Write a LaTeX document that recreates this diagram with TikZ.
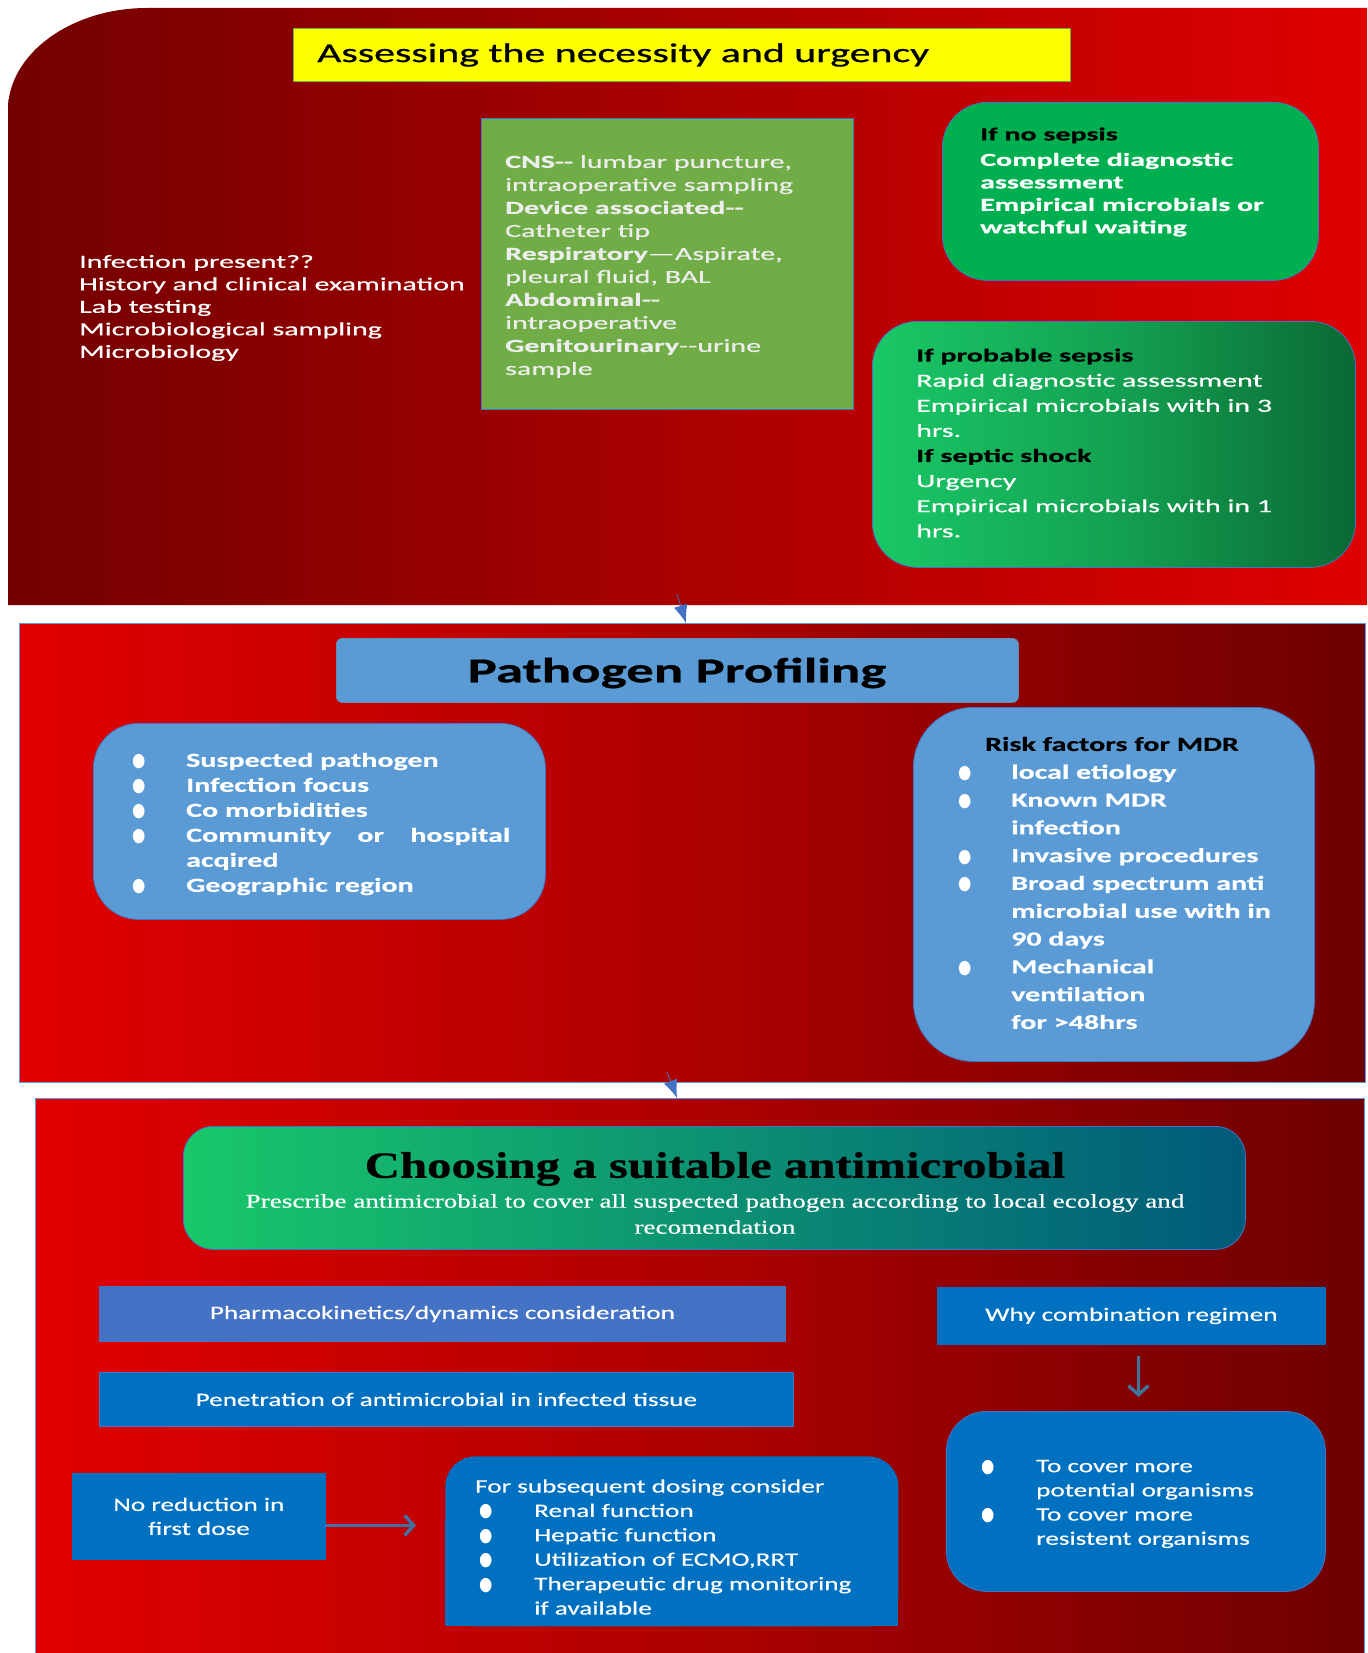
\documentclass[tikz,border=0pt]{standalone}
\usepackage{fontspec}
\setmainfont{Carlito}[FakeStretch=1.4]
\newfontfamily\fa{Carlito}[FakeStretch=1.62,FakeBold=0.5]
\newfontfamily\fat{Carlito}[FakeStretch=1.55,FakeBold=0.8]
\newfontfamily\fb{Carlito}[FakeStretch=1.5,FakeBold=0.4]
\newfontfamily\fbt{Carlito}[FakeStretch=1.57,FakeBold=0.6]
\newfontfamily\fc{Carlito}[FakeStretch=1.43,FakeBold=0.4]
\newfontfamily\tmsA{Liberation Serif}[FakeStretch=1.32,FakeBold=0.6]
\newfontfamily\tmsB{Liberation Serif}[FakeStretch=1.39,FakeBold=0.4]
\newfontfamily\djv{DejaVu Sans}
\usetikzlibrary{arrows.meta,calc}
\definecolor{pA}{HTML}{730000}
\definecolor{pB}{HTML}{E00000}
\definecolor{pC}{HTML}{E20000}
\definecolor{pD}{HTML}{6E0000}
\definecolor{ylw}{HTML}{FFFF00}
\definecolor{grn}{HTML}{70AD47}
\definecolor{grn2}{HTML}{00B050}
\definecolor{grnL}{HTML}{19C866}
\definecolor{grnD}{HTML}{0B6934}
\definecolor{bl1}{HTML}{5B9BD5}
\definecolor{bl2}{HTML}{4472C4}
\definecolor{bl3}{HTML}{0070C0}
\definecolor{edge}{HTML}{4472C4}
\definecolor{steel}{HTML}{41719C}
\definecolor{tealR}{HTML}{005A7A}
\definecolor{grnC}{HTML}{18C86A}
\newcommand\bul{{\djv\fontsize{18}{18}\selectfont\scalebox{0.85}[1.05]{●}}}
\newcommand\bi[1]{\makebox[#1][l]{\bul}}
\begin{document}
\begin{tikzpicture}[x=1pt,y=-1pt,
  box/.style={anchor=north west, inner sep=0pt, draw=edge, line width=0.8pt},
  txt/.style={inner sep=0pt, anchor=west, align=left, text=white},
  ctxt/.style={inner sep=0pt, align=center, text=white},
  panelarrow/.style={draw=edge, line width=0.8pt, -{Latex[length=18pt,width=14pt]}},
  bigarrow/.style={draw=steel, line width=3.5pt, -{Straight Barb[length=9pt,width=20pt,line width=3.5pt]}}]
\useasboundingbox (0,0) rectangle (1367,1653);
\fill[white] (0,0) rectangle (1367,1653);

% ---------- Panel 1 ----------
\shade[left color=pA, right color=pB]
  (8,605) -- (8,110) .. controls (8,54) and (71,8) .. (147,8) -- (1367,8) -- (1367,605) -- cycle;
\coordinate (p1bot) at (677,594);

\node[box, draw=grn, fill=ylw, minimum width=777pt, minimum height=53pt] (t1box) at (293,28) {};
\node[txt, text=black, font=\fat\fontsize{27}{30}\selectfont] (t1) at (317,55) {Assessing the necessity and urgency};

\node[txt, font=\fa\fontsize{18.5}{22.5}\selectfont] (assess) at (79,308)
 {Infection present??\\History and clinical examination\\Lab testing\\Microbiological sampling\\Microbiology};

\node[box, fill=grn, minimum width=372pt, minimum height=291pt] (sampbox) at (481,118) {};
\node[txt, text=white!93!black, font=\fa\fontsize{18.5}{23}\selectfont] (samp) at (505,266.5)
 {\textbf{CNS-{}-} lumbar puncture,\\intraoperative sampling\\\textbf{Device associated-{}-}\\Catheter tip\\\textbf{Respiratory}—Aspirate,\\pleural fluid, BAL\\\textbf{Abdominal-{}-}\\intraoperative\\\textbf{Genitourinary}-{}-urine\\sample};

\node[box, fill=grn2, rounded corners=45pt, minimum width=376pt, minimum height=178pt] (nosbox) at (942,102) {};
\node[txt, font=\fa\bfseries\fontsize{18.5}{22.5}\selectfont] (nos) at (980,182)
 {\textcolor{black}{If no sepsis}\\[3pt]Complete diagnostic\\assessment\\Empirical microbials or\\watchful waiting};

\node[box, left color=grnL, right color=grnD, middle color=grnL!60!grnD, rounded corners=45pt, minimum width=483pt, minimum height=246pt] (probbox) at (872,321) {};
\node[txt, font=\fa\fontsize{18.5}{25.1}\selectfont] (prob) at (916,443)
 {\textcolor{black}{\textbf{If probable sepsis}}\\Rapid diagnostic assessment\\Empirical microbials with in 3\\hrs.\\\textcolor{black}{\textbf{If septic shock}}\\Urgency\\Empirical microbials with in 1\\hrs.};

% ---------- Panel 2 ----------
\node[box, draw=bl1, left color=pC, right color=pD, middle color=pC!55!pD, minimum width=1346pt, minimum height=459pt] (p2) at (19,623) {};
\draw[panelarrow] (p1bot) -- ([xshift=9pt]p1bot |- p2.north);

\node[box, fill=bl1, draw=steel!80, rounded corners=6pt, minimum width=682pt, minimum height=64pt] (pathbox) at (336,638) {};
\node[ctxt, text=black, font=\fbt\bfseries\fontsize{35}{40}\selectfont] (path) at (677,673) {Pathogen Profiling};

\node[box, fill=bl1, draw=edge, rounded corners=45pt, minimum width=452pt, minimum height=196pt] (lbox) at (93,723) {};
\node[txt, font=\fb\bfseries\fontsize{20}{25}\selectfont] (lst) at (132,824)
 {\bi{54pt}Suspected pathogen\\\bi{54pt}Infection focus\\\bi{54pt}Co morbidities\\\bi{54pt}\makebox[324pt][l]{Community\hfill or\hfill hospital}\\\hspace*{54pt}acqired\\\bi{54pt}Geographic region};

\node[box, fill=bl1, draw=edge, rounded corners=60pt, minimum width=401pt, minimum height=354pt] (rbox) at (913,707) {};
\node[txt, font=\fb\bfseries\fontsize{20}{27.8}\selectfont] (risk) at (958,883)
 {\hspace*{27pt}\textcolor{black}{Risk factors for MDR}\\\bi{53pt}local etiology\\\bi{53pt}Known MDR\\\hspace*{53pt}infection\\\bi{53pt}Invasive procedures\\\bi{53pt}Broad spectrum anti\\\hspace*{53pt}microbial use with in\\\hspace*{53pt}90 days\\\bi{53pt}Mechanical\\\hspace*{53pt}ventilation\\\hspace*{53pt}for >48hrs};

\coordinate (p2bot) at (667,1072);

% ---------- Panel 3 ----------
\node[box, draw=bl1, left color=pC, right color=pD, middle color=pC!55!pD, minimum width=1329pt, minimum height=575pt] (p3) at (35,1098) {};
\draw[panelarrow] (p2bot) -- ([xshift=10pt]p2bot |- p3.north);

\node[box, left color=grnC, right color=tealR, middle color=grnC!50!tealR, draw=bl2, rounded corners=30pt, minimum width=1062pt, minimum height=123pt] (choosebox) at (183,1126) {};
\node[ctxt, text=black, font=\tmsA\bfseries\fontsize{37}{40}\selectfont] (choose) at (715,1169) {Choosing a suitable antimicrobial};
\node[ctxt, font=\tmsB\fontsize{19.5}{26}\selectfont] (presc) at (715,1214)
 {Prescribe antimicrobial to cover all suspected pathogen according to local ecology and\\recomendation};

\node[box, fill=bl2, draw=bl2, minimum width=686pt, minimum height=55pt] (pharma) at (99,1286) {};
\node[ctxt, font=\fc\fontsize{19}{23}\selectfont] (pharmat) at (pharma.center) {Pharmacokinetics/dynamics consideration};

\node[box, fill=bl3, draw=bl2, minimum width=694pt, minimum height=54pt] (pen) at (99,1372) {};
\node[ctxt, font=\fc\fontsize{19}{23}\selectfont] (pent) at (pen.center) {Penetration of antimicrobial in infected tissue};

\node[box, fill=bl3, draw=bl3, minimum width=388pt, minimum height=57pt] (why) at (937,1287) {};
\node[ctxt, font=\fc\fontsize{19}{23}\selectfont] (whyt) at (why.center) {Why combination regimen};

\node[box, fill=bl3, draw=edge, rounded corners=40pt, minimum width=379pt, minimum height=180pt] (combo) at (946,1411) {};
\node[txt, font=\fc\fontsize{19}{24.2}\selectfont] (combot) at (981,1504)
 {\bi{55pt}To cover more\\\hspace*{55pt}potential organisms\\\bi{55pt}To cover more\\\hspace*{55pt}resistent organisms};
\draw[bigarrow, shorten >=14pt] ([xshift=7pt]why.south) ++(0,11) -- ([xshift=7pt]why.south |- combo.north);

\node[box, fill=bl3, draw=bl3, minimum width=253pt, minimum height=86pt] (nored) at (72,1473) {};
\node[ctxt, font=\fc\fontsize{19}{24}\selectfont] (noredt) at (nored.center) {No reduction in\\first dose};

\node[box, fill=bl3, draw=none, rounded corners=30pt, minimum width=453pt, minimum height=170pt] (dose) at (445,1456) {};
\fill[bl3] (445,1520) rectangle (898,1626);
\node[txt, font=\fc\fontsize{19}{24.4}\selectfont] (doset) at (475,1547)
 {For subsequent dosing consider\\\hspace*{4pt}\bi{55pt}Renal function\\\hspace*{4pt}\bi{55pt}Hepatic function\\\hspace*{4pt}\bi{55pt}Utilization of ECMO,RRT\\\hspace*{4pt}\bi{55pt}Therapeutic drug monitoring\\\hspace*{59pt}if available};

\draw[bigarrow, shorten >=29pt] ([yshift=-9pt]nored.east) -- ([yshift=-9pt]nored.east -| dose.west);
\end{tikzpicture}
\end{document}
